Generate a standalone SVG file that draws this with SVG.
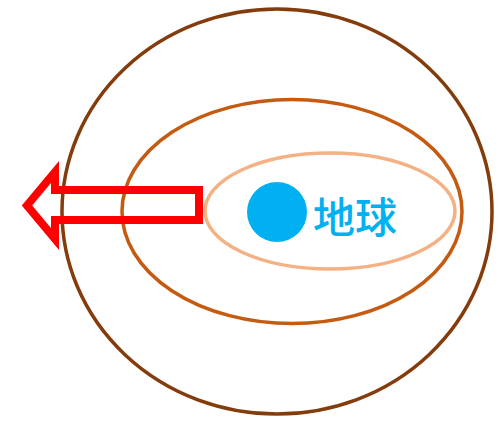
<svg xmlns="http://www.w3.org/2000/svg" width="500" height="425" viewBox="0 0 500 425">
<style>
.orb{fill:none;stroke-width:3.5}
.lbl{font-family:"Noto Sans CJK SC","Noto Sans CJK JP",sans-serif;font-size:42px;font-weight:500;fill:#00B0F0}
</style>
<rect width="500" height="425" fill="#fff"/>
<g id="outer"><ellipse class="orb" cx="277" cy="211.5" rx="215" ry="202.5" stroke="#843C0C"/></g>
<g id="middle"><ellipse class="orb" cx="292" cy="211.5" rx="170" ry="112" stroke="#C55A11"/></g>
<g id="inner"><ellipse class="orb" cx="330" cy="211" rx="125" ry="58" stroke="#F4B183"/></g>
<g id="earth">
<circle cx="277" cy="212" r="30" fill="#00B0F0"/>
<text class="lbl" x="313" y="233">地球</text>
</g>
<g id="connectors">
<polygon points="199,190 55,190 55,172 27,205.5 55,239 55,220 199,220" fill="none" stroke="#FF0000" stroke-width="8" stroke-miterlimit="10"/>
</g>
</svg>
